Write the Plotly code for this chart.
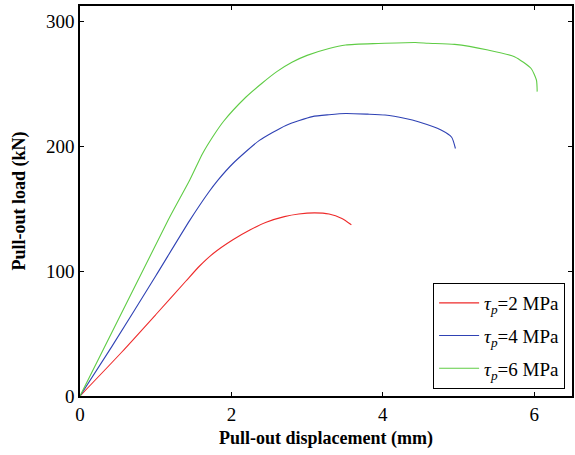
import plotly.graph_objects as go

# Data
x_tau2 = [0.0, 0.55, 1.0, 1.4, 1.58, 1.76, 2.02, 2.25, 2.46, 2.7, 2.89, 3.1, 3.29, 3.46, 3.585]
y_tau2 = [0.0, 35.0, 65.0, 92.0, 104.0, 114.0, 125.0, 133.0, 139.0, 143.5, 145.6, 146.5, 145.6, 142.0, 137.0]

x_tau4 = [0.0, 0.42, 1.0, 1.45, 1.7, 1.82, 2.02, 2.37, 2.72, 3.07, 3.29, 3.51, 3.8, 4.03, 4.3, 4.47, 4.77, 4.91, 4.96]
y_tau4 = [0.0, 39.5, 96.0, 140.5, 163.0, 172.5, 186.0, 204.5, 216.5, 223.5, 225.0, 226.0, 225.5, 224.8, 222.0, 219.4, 212.8, 207.0, 198.0]

x_tau6 = [0.0, 1.165, 1.45, 1.62, 1.75, 1.9, 2.19, 2.4, 2.6, 2.8, 3.0, 3.29, 3.51, 3.94, 4.43, 4.6, 4.95, 5.39, 5.74, 5.96, 6.03, 6.04]
y_tau6 = [0.0, 140.8, 172.8, 194.0, 207.0, 220.0, 239.0, 250.0, 259.5, 267.0, 272.5, 278.0, 280.8, 282.0, 282.8, 282.2, 281.3, 276.8, 271.5, 262.0, 252.8, 243.5]

series_names = ["<i>τ</i><sub><i>p</i></sub>=2 MPa",
                "<i>τ</i><sub><i>p</i></sub>=4 MPa",
                "<i>τ</i><sub><i>p</i></sub>=6 MPa"]
series_colors = ["#ee2a2a", "#2f42b4", "#5fcc45"]

x_ticks = [0, 2, 4, 6]
y_ticks = [0, 100, 200, 300]

FONT = "'Liberation Serif', 'Times New Roman', Times, 'DejaVu Serif', serif"

fig = go.Figure()
for i, (xs, ys, name, col) in enumerate(zip([x_tau2, x_tau4, x_tau6], [y_tau2, y_tau4, y_tau6],
                                            series_names, series_colors)):
    fig.add_trace(go.Scatter(x=xs, y=ys, mode="lines", name=name, legendgroup=f"g{i}",
                             line=dict(color=col, width=1.1, shape="spline", smoothing=0.6)))

axis_common = dict(showline=True, linecolor="black", linewidth=1.5, mirror="ticks",
                   ticks="inside", ticklen=4, tickcolor="black", tickwidth=1,
                   showgrid=False, zeroline=False,
                   tickfont=dict(family=FONT, size=19, color="black"))

fig.update_xaxes(range=[0, 6.5], tickvals=x_ticks,
                 title=dict(text="<b>Pull-out displacement (mm)</b>",
                            font=dict(family=FONT, size=18, color="black"), standoff=8),
                 **axis_common)
fig.update_yaxes(range=[0, 312], tickvals=y_ticks,
                 title=dict(text="<b>Pull-out load (kN)</b>",
                            font=dict(family=FONT, size=18, color="black"), standoff=16),
                 **axis_common)

fig.update_layout(
    width=575, height=455,
    margin=dict(l=80, r=1, t=6, b=59),
    plot_bgcolor="white", paper_bgcolor="white",
    font=dict(family=FONT, size=19, color="black"),
    legend=dict(x=0.986, xanchor="right", y=0.018, yanchor="bottom",
                bordercolor="black", borderwidth=1, bgcolor="white",
                font=dict(family=FONT, size=19, color="black"),
                tracegroupgap=5, itemwidth=40),
    showlegend=True,
)

fig.write_html("out.html")
